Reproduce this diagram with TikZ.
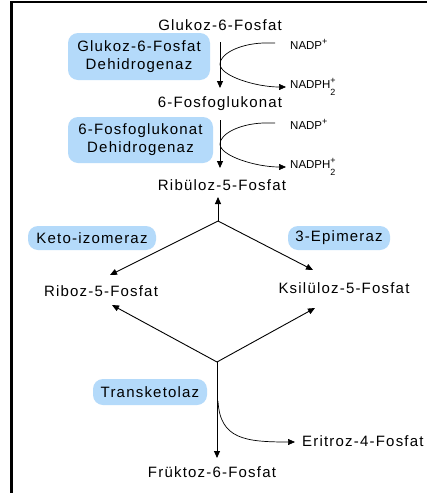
\documentclass[tikz,border=0pt]{standalone}
\usepackage{fontspec}
\setmainfont{Liberation Sans}
\newfontfamily\labfont[LetterSpace=8]{Liberation Sans}
\usetikzlibrary{arrows.meta,calc}
\definecolor{enzblue}{RGB}{180,218,250}
% cofactor labels with stacked charge and index
\newcommand{\scriptlbl}[1]{{\fontsize{9}{9}\selectfont #1}}
\newcommand{\nadpox}{NADP\raisebox{4.5pt}{\scriptlbl{+}}}
\newcommand{\nadpred}{NADPH\makebox[0pt][l]{\raisebox{5pt}{\scriptlbl{+}}}\raisebox{-7pt}{\scriptlbl{2}}}
\begin{document}
\begin{tikzpicture}[x=1pt,y=-1pt,
  metab/.style={font=\labfont\fontsize{15}{18}\selectfont, inner sep=0pt, anchor=base},
  enzyme/.style={font=\labfont\fontsize{15}{18}\selectfont, inner sep=0pt,
    fill=enzblue, rounded corners=10pt, align=center},
  cofac/.style={font=\fontsize{11.5}{13}\selectfont, inner sep=0pt, anchor=base west},
  tip/.style={-{Triangle[length=7pt,width=6pt]}},
  flow/.style={line width=0.9pt, tip},
  side/.style={line width=0.7pt, tip},
]
\useasboundingbox (0,0) rectangle (427,493);
\fill[white] (0,0) rectangle (427,493);
% frame: left and top edges
\draw[line width=3pt] (11.5,493) -- (11.5,0.5);
\draw[line width=2pt] (10,1.5) -- (427,1.5);

% oxidative phase
\node[metab] (g6p) at (220,30) {Glukoz-6-Fosfat};
\node[enzyme, minimum width=142pt, minimum height=47pt] (e1) at (139,56.5)
  {Glukoz-6-Fosfat\\Dehidrogenaz};
\node[metab] (p6g) at (220,107) {6-Fosfoglukonat};
\node[enzyme, minimum width=145pt, minimum height=46pt] (e2) at (140.5,140)
  {6-Fosfoglukonat\\Dehidrogenaz};
\node[metab] (ru5p) at (222,190) {Ribüloz-5-Fosfat};

\node[cofac] (nadp1) at (290,49) {\nadpox};
\node[cofac] (nadph1) at (290,88) {\nadpred};
\node[cofac] (nadp2) at (290,129) {\nadpox};
\node[cofac] (nadph2) at (290,168) {\nadpred};

\draw[flow] ($(g6p.base)+(0,12)$) -- ($(p6g.base)+(0,-19)$);
\draw[flow] ($(p6g.base)+(0,13)$) -- ($(ru5p.base)+(-2,-22)$);

\coordinate (k1) at (220,64);
\coordinate (k2) at (220,144);
\draw[side] ($(nadp1.base west)+(-15,-6)$) -- ++(-12,0)
  .. controls +(-24,1) and +(0,-10) .. (k1)
  .. controls +(0,12) and +(-30,0) .. ($(nadph1.base west)+(-4,-1)$);
\draw[side] ($(nadp2.base west)+(-15,-6)$) -- ++(-12,0)
  .. controls +(-24,1) and +(0,-10) .. (k2)
  .. controls +(0,12) and +(-30,0) .. ($(nadph2.base west)+(-4,-1)$);

% non-oxidative phase
\node[enzyme, minimum width=128pt, minimum height=24pt] (e3) at (92,238) {Keto-izomeraz};
\node[enzyme, minimum width=102pt, minimum height=24pt] (e4) at (339,238) {3-Epimeraz};
\node[metab] (r5p) at (101,296.5) {Riboz-5-Fosfat};
\node[metab] (x5p) at (344,293) {Ksilüloz-5-Fosfat};
\node[enzyme, minimum width=114pt, minimum height=26pt] (e5) at (150,392) {Transketolaz};
\node[metab, anchor=base west] (e4p) at (302,446) {Eritroz-4-Fosfat};
\node[metab] (f6p) at (212,477) {Früktoz-6-Fosfat};

\coordinate (j1) at (218,221);
\coordinate (j2) at (217,362);
\coordinate (k3) at (218,401);

\draw[flow] (j1) -- ($(j1 |- ru5p.base)+(0,7)$);
\draw[flow] (j1) -- ($(r5p.base)+(9,-21.5)$);
\draw[flow] (j1) -- ($(x5p.base)+(-31,-23)$);
\draw[flow] (j2) -- ($(r5p.base)+(11,8.5)$);
\draw[flow] (j2) -- ($(x5p.base)+(-29,15)$);
\draw[flow] (j2) -- ($(j2 |- f6p.base)+(0,-19)$);
\draw[side] (k3) .. controls +(2,38) and +(-50,0) .. ($(e4p.base west)+(-7,-4)$);
\end{tikzpicture}
\end{document}
